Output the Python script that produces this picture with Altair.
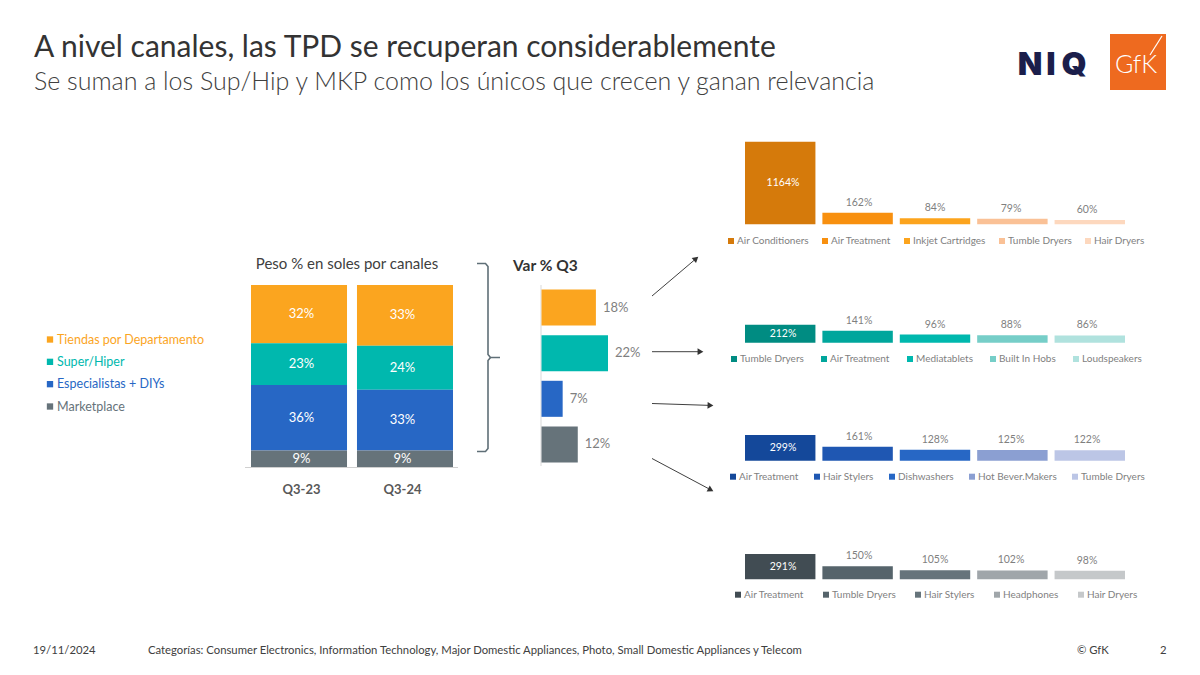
import math
import altair as alt
import pandas as pd

FONT = "Lato"
DARK = "#404040"
GREY = "#7F7F7F"

# ---------------- data ----------------
periods = ["Q3-23", "Q3-24"]
channels = ["Tiendas por Departamento", "Super/Hiper", "Especialistas + DIYs", "Marketplace"]
channel_colors = ["#FBA51F", "#00B8AE", "#2767C5", "#66737A"]
share_q3_23 = [32, 23, 36, 9]
share_q3_24 = [33, 24, 33, 9]
var_q3 = [18, 22, 7, 12]

tpd_cats = ["Air Conditioners", "Air Treatment", "Inkjet Cartridges", "Tumble Dryers", "Hair Dryers"]
tpd_vals = [1164, 162, 84, 79, 60]
tpd_colors = ["#D57A0B", "#F8900F", "#FCA41D", "#FAC196", "#FDD8BE"]

sup_cats = ["Tumble Dryers", "Air Treatment", "Mediatablets", "Built In Hobs", "Loudspeakers"]
sup_vals = [212, 141, 96, 88, 86]
sup_colors = ["#008C82", "#00A69C", "#00B8AE", "#76CEC8", "#B0E2DE"]

esp_cats = ["Air Treatment", "Hair Stylers", "Dishwashers", "Hot Bever.Makers", "Tumble Dryers"]
esp_vals = [299, 161, 128, 125, 122]
esp_colors = ["#14489A", "#1F57B2", "#2767C5", "#8B9FD2", "#BCC6E6"]

mkp_cats = ["Air Treatment", "Tumble Dryers", "Hair Stylers", "Headphones", "Hair Dryers"]
mkp_vals = [291, 150, 105, 102, 98]
mkp_colors = ["#414C53", "#56646B", "#66747B", "#A0A6AA", "#C5C8CA"]

ONE = alt.Data(values=[{"k": 0}])


def text_at(text, x, y, size, color=DARK, weight="normal", align="left",
            font=FONT, baseline="alphabetic"):
    return alt.Chart(ONE).mark_text(
        text=text, fontSize=size, color=color, fontWeight=weight, align=align,
        font=font, baseline=baseline
    ).encode(x=alt.value(x), y=alt.value(y))


layers = []

# ---------------- headings & footer ----------------
layers += [
    text_at("A nivel canales, las TPD se recuperan considerablemente", 34, 57, 30, color="#333333"),
    text_at("Se suman a los Sup/Hip y MKP como los únicos que crecen y ganan relevancia",
            34, 90, 25, color=DARK, weight=300),
    text_at("19/11/2024", 33, 654, 11.3),
    text_at("Categorías: Consumer Electronics, Information Technology, Major Domestic Appliances, "
            "Photo, Small Domestic Appliances y Telecom", 148, 654, 11.3),
    text_at("© GfK", 1077, 654, 11.3),
    text_at("2", 1160, 654, 11.3),
    text_at("Peso % en soles por canales", 347, 269, 15, align="center"),
    text_at("Var % Q3", 513, 271, 15.5, weight="bold", color="#333333"),
]

# ---------------- logos ----------------
for letter, cx in [("N", 1030), ("I", 1051), ("Q", 1074)]:
    layers.append(text_at(letter, cx, 75, 32, color="#1B1E4B", weight=900,
                          align="center", font="Inter"))
layers += [
    alt.Chart(ONE).mark_rect(color="#EE6A1F").encode(
        x=alt.value(1110), x2=alt.value(1166), y=alt.value(34), y2=alt.value(90)),
    text_at("GfK", 1136, 73, 25, color="white", weight=300, align="center"),
    alt.Chart(ONE).mark_rule(color="white", strokeWidth=1.2).encode(
        x=alt.value(1162), y=alt.value(36), x2=alt.value(1150), y2=alt.value(55)),
]

# ---------------- channel share (stacked 100%) ----------------
ch_scale = alt.Scale(domain=channels, range=channel_colors)
stack_order = {c: i for i, c in enumerate(reversed(channels))}
rows = []
for p, shares in zip(periods, [share_q3_23, share_q3_24]):
    for c, s in zip(channels, shares):
        rows.append({"period": p, "channel": c, "share": s, "ord": stack_order[c]})
stack_df = pd.DataFrame(rows)

px_scale = alt.Scale(domain=periods, range=[251, 453], paddingInner=0.094, paddingOuter=0)
sy_scale = alt.Scale(domain=[0, 1], range=[467, 285], nice=False, zero=True)

stack_base = alt.Chart(stack_df).transform_stack(
    stack="share", groupby=["period"], as_=["s0", "s1"],
    sort=[alt.SortField("ord", order="ascending")], offset="normalize"
).transform_calculate(mid="(datum.s0 + datum.s1) / 2", lbl="datum.share + '%'")

layers.append(stack_base.mark_bar().encode(
    x=alt.X("period:N", scale=px_scale, axis=None),
    y=alt.Y("s0:Q", scale=sy_scale, axis=None),
    y2="s1:Q",
    color=alt.Color("channel:N", scale=ch_scale, legend=None),
))
layers.append(stack_base.mark_text(color="white", fontSize=13, font=FONT, baseline="middle").encode(
    x=alt.X("period:N", scale=px_scale, axis=None),
    y=alt.Y("mid:Q", scale=sy_scale, axis=None),
    text="lbl:N",
))
layers.append(alt.Chart(ONE).mark_rule(color="#D0D0D0", strokeWidth=1).encode(
    x=alt.value(245), x2=alt.value(458), y=alt.value(467.5)))
layers.append(alt.Chart(pd.DataFrame({"period": periods})).mark_text(
    fontSize=13, fontWeight="bold", color="#595959", font=FONT, baseline="middle"
).encode(x=alt.X("period:N", scale=px_scale, axis=None), y=alt.value(490), text="period:N"))

# channel legend on the left
leg_df = pd.DataFrame({"channel": channels})
ly_scale = alt.Scale(type="point", domain=channels, range=[339.5, 406.5], padding=0)
layers.append(alt.Chart(leg_df).mark_square(size=40, opacity=1).encode(
    x=alt.value(50), y=alt.Y("channel:N", scale=ly_scale, axis=None),
    color=alt.Color("channel:N", scale=ch_scale, legend=None)))
layers.append(alt.Chart(leg_df).mark_text(align="left", baseline="middle", fontSize=12.5, font=FONT).encode(
    x=alt.value(57), y=alt.Y("channel:N", scale=ly_scale, axis=None),
    text="channel:N",
    color=alt.Color("channel:N", scale=ch_scale, legend=None)))

# ---------------- Var % Q3 ----------------
var_df = pd.DataFrame({"channel": channels, "var": var_q3})
vy_scale = alt.Scale(domain=channels, range=[285, 467], paddingInner=0.21, paddingOuter=0.1)
vx_scale = alt.Scale(domain=[0, 22], range=[541.5, 608], nice=False, zero=True)
layers.append(alt.Chart(ONE).mark_rule(color="#D9D9D9", strokeWidth=1).encode(
    x=alt.value(541), y=alt.value(285), y2=alt.value(466)))
layers.append(alt.Chart(var_df).mark_bar().encode(
    y=alt.Y("channel:N", scale=vy_scale, axis=None),
    x=alt.X("var:Q", scale=vx_scale, axis=None),
    color=alt.Color("channel:N", scale=ch_scale, legend=None)))
layers.append(alt.Chart(var_df).transform_calculate(lbl="datum.var + '%'").mark_text(
    align="left", baseline="middle", dx=7, fontSize=13, color=GREY, font=FONT).encode(
    y=alt.Y("channel:N", scale=vy_scale, axis=None),
    x=alt.X("var:Q", scale=vx_scale, axis=None),
    text="lbl:N"))

# ---------------- brace and arrows (slide pixel space) ----------------
PX = alt.Scale(domain=[0, 1200], range=[0, 1200], nice=False, zero=False)
PY = alt.Scale(domain=[0, 675], range=[0, 675], nice=False, zero=False)

brace_pts = [
    ("top", 477, 263.5), ("top", 485.5, 263.5), ("top", 488, 266.5), ("top", 488, 354.5),
    ("top", 490.5, 357.5), ("top", 500, 357.5),
    ("bot", 490.5, 357.5), ("bot", 488, 360.5), ("bot", 488, 448.5), ("bot", 485.5, 451.5),
    ("bot", 477, 451.5),
]
brace_df = pd.DataFrame([{"part": p, "i": i, "px": x, "py": y} for i, (p, x, y) in enumerate(brace_pts)])
layers.append(alt.Chart(brace_df).mark_line(color="#5F6F77", strokeWidth=1.6).encode(
    x=alt.X("px:Q", scale=PX, axis=None), y=alt.Y("py:Q", scale=PY, axis=None),
    detail="part:N", order="i:Q"))

arrows = [((652, 296), (698, 257)), ((652, 351.7), (703, 351.7)),
          ((652, 403.5), (713, 405.5)), ((652, 458.5), (713, 491))]
arr_rows = []
for (x0, y0), (x1, y1) in arrows:
    dx, dy = x1 - x0, y1 - y0
    L = math.hypot(dx, dy)
    ux, uy = dx / L, dy / L
    arr_rows.append({"x0": x0, "y0": y0, "x1": x1 - ux * 5, "y1": y1 - uy * 5,
                     "hx": x1 - ux * 3.5, "hy": y1 - uy * 3.5,
                     "ang": math.degrees(math.atan2(dx, -dy)) % 360})
arr_df = pd.DataFrame(arr_rows)
layers.append(alt.Chart(arr_df).mark_rule(color="#404040", strokeWidth=1).encode(
    x=alt.X("x0:Q", scale=PX, axis=None), y=alt.Y("y0:Q", scale=PY, axis=None),
    x2="x1:Q", y2="y1:Q"))
layers.append(alt.Chart(arr_df).mark_point(shape="triangle", filled=True, size=45,
                                          color="#333333", opacity=1).encode(
    x=alt.X("hx:Q", scale=PX, axis=None), y=alt.Y("hy:Q", scale=PY, axis=None),
    angle=alt.Angle("ang:Q", scale=None)))

# ---------------- top-5 category panels ----------------
# (categories, values, colours, baseline px, top-of-max px, legend x, legend y, legend column gap)
panels = [
    (tpd_cats, tpd_vals, tpd_colors, 224.3, 141.7, 726, 236, 11),
    (sup_cats, sup_vals, sup_colors, 342.7, 324.7, 729, 354, 15),
    (esp_cats, esp_vals, esp_colors, 460.7, 435.0, 728, 471.7, 13),
    (mkp_cats, mkp_vals, mkp_colors, 579.3, 554.0, 733, 589.7, 17),
]
for cats, vals, colors, base_y, top_y, leg_x, leg_y, col_gap in panels:
    df = pd.DataFrame({"cat": cats, "val": vals, "rank": list(range(len(cats)))})
    xs = alt.Scale(domain=cats, range=[745, 1125], paddingInner=0.09, paddingOuter=0)
    ys = alt.Scale(domain=[0, max(vals)], range=[base_y, top_y], nice=False, zero=True)
    layers.append(alt.Chart(df).mark_bar().encode(
        x=alt.X("cat:N", scale=xs, axis=None),
        y=alt.Y("val:Q", scale=ys, axis=None),
        color=alt.Color("cat:N", scale=alt.Scale(domain=cats, range=colors),
                        legend=alt.Legend(
                            orient="none", legendX=leg_x, legendY=leg_y, direction="horizontal",
                            title=None, symbolType="square", symbolSize=36, symbolStrokeWidth=0,
                            labelFont=FONT, labelFontSize=10, labelColor=GREY,
                            labelOffset=1, columnPadding=col_gap, padding=0, offset=0)),
    ))
    panel_lbl = alt.Chart(df).transform_calculate(lbl="datum.val + '%'", half="datum.val / 2")
    layers.append(panel_lbl.transform_filter("datum.rank == 0").mark_text(
        color="white", fontSize=10.5, font=FONT, baseline="middle").encode(
        x=alt.X("cat:N", scale=xs, axis=None),
        y=alt.Y("half:Q", scale=ys, axis=None),
        text="lbl:N"))
    layers.append(panel_lbl.transform_filter("datum.rank > 0").mark_text(
        color=GREY, fontSize=10.5, font=FONT, baseline="alphabetic", dy=-7).encode(
        x=alt.X("cat:N", scale=xs, axis=None),
        y=alt.Y("val:Q", scale=ys, axis=None),
        text="lbl:N"))

chart = alt.layer(*layers).resolve_scale(
    x="independent", y="independent", color="independent"
).properties(
    width=1200, height=675, padding=0,
    autosize=alt.AutoSizeParams(type="none"),
    background="white",
).configure_view(stroke=None)

chart.save("out.html", embed_options={"renderer": "svg", "actions": False})
